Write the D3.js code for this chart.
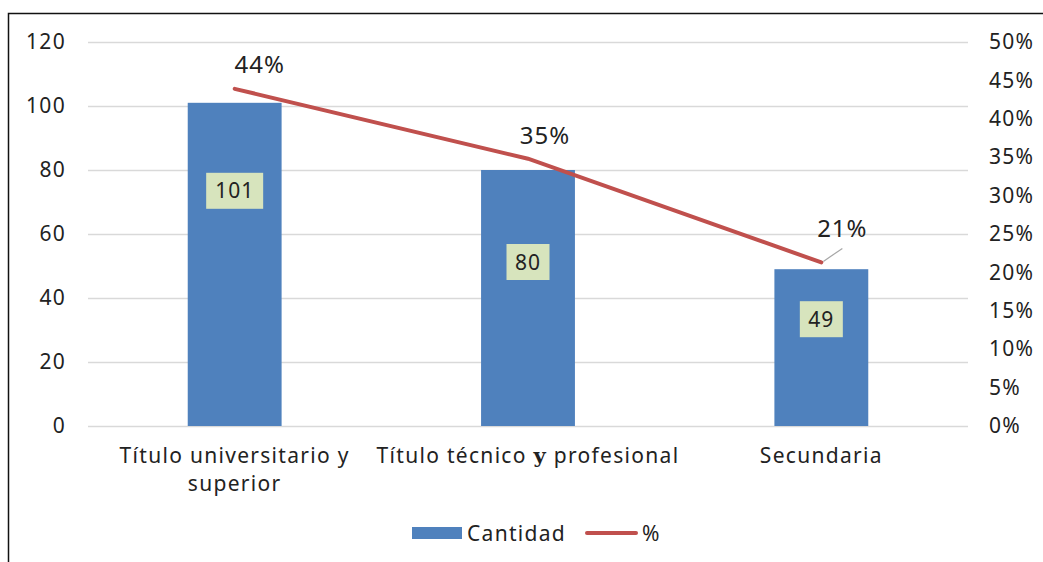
<!DOCTYPE html>
<html>
<head>
<meta charset="utf-8">
<script src="https://cdn.jsdelivr.net/npm/d3@7"></script>
<style>
  body { margin: 0; background: #fff; }
  text { font-family: "Noto Sans", sans-serif; fill: #222; letter-spacing: 1.3px; }
</style>
</head>
<body>
<script>
var categories = ["Título universitario y superior", "Título técnico y profesional", "Secundaria"];
var cantidad = [101, 80, 49];
var pct = [0.439, 0.348, 0.213];
var pctLabels = ["44%", "35%", "21%"];
var leftTicks = [0, 20, 40, 60, 80, 100, 120];
var rightTicks = [0, 0.05, 0.1, 0.15, 0.2, 0.25, 0.3, 0.35, 0.4, 0.45, 0.5];

var W = 1043, H = 562;
var plotL = 88, plotR = 968, plotT = 42, plotB = 426;

var svg = d3.select("body").append("svg")
    .attr("width", W)
    .attr("height", H);

// outer frame
svg.append("rect")
    .attr("x", 8.5).attr("y", 13.5)
    .attr("width", W).attr("height", H)
    .attr("fill", "none")
    .attr("stroke", "#111")
    .attr("stroke-width", 1.5);

var x = d3.scaleBand().domain(categories).range([plotL, plotR]).paddingInner(0.68).paddingOuter(0.34);
var y = d3.scaleLinear().domain([0, 120]).range([plotB, plotT]);
var y2 = d3.scaleLinear().domain([0, 0.5]).range([plotB, plotT]);

// gridlines
svg.selectAll("line.grid")
    .data(leftTicks)
    .enter().append("line")
    .attr("class", "grid")
    .attr("x1", plotL).attr("x2", plotR)
    .attr("y1", function(d) { return y(d) + 0.5; })
    .attr("y2", function(d) { return y(d) + 0.5; })
    .attr("stroke", "#d9d9d9")
    .attr("stroke-width", 1.5);

// left axis
var ya = svg.append("g")
    .attr("transform", "translate(" + (plotL - 22) + ",0)")
    .call(d3.axisLeft(y).tickValues(leftTicks).tickSize(0).tickPadding(0));
ya.select(".domain").remove();
ya.selectAll("text").style("font-size", "21px").attr("fill", "#222").style("font-family", "'Noto Sans', sans-serif");

// right axis
var yb = svg.append("g")
    .attr("transform", "translate(" + (plotR + 21) + ",0)")
    .call(d3.axisRight(y2).tickValues(rightTicks).tickSize(0).tickPadding(0).tickFormat(d3.format(".0%")));
yb.select(".domain").remove();
yb.selectAll("text").style("font-size", "21px").attr("fill", "#222").style("font-family", "'Noto Sans', sans-serif");

// bars
svg.selectAll("rect.bar")
    .data(cantidad)
    .enter().append("rect")
    .attr("class", "bar")
    .attr("x", function(d, i) { return x(categories[i]); })
    .attr("y", function(d) { return y(d); })
    .attr("width", x.bandwidth())
    .attr("height", function(d) { return plotB - y(d); })
    .attr("fill", "#4f81bd");

// bar value labels
var labelOffset = [88, 92, 50];
var lab = svg.selectAll("g.vlab")
    .data(cantidad)
    .enter().append("g")
    .attr("class", "vlab")
    .attr("transform", function(d, i) {
        return "translate(" + (x(categories[i]) + x.bandwidth() / 2) + "," + (y(d) + labelOffset[i]) + ")";
    });
lab.append("rect")
    .attr("x", function(d) { return d >= 100 ? -28.5 : -21.5; })
    .attr("y", -18)
    .attr("width", function(d) { return d >= 100 ? 57 : 43; })
    .attr("height", 36)
    .attr("fill", "#d7e4bd");
lab.append("text")
    .attr("text-anchor", "middle")
    .attr("dy", "0.36em")
    .style("font-size", "21px")
    .style("letter-spacing", "1px")
    .text(function(d) { return d; });

// line
var cx = function(i) { return x(categories[i]) + x.bandwidth() / 2; };
var line = d3.line()
    .x(function(d, i) { return cx(i); })
    .y(function(d) { return y2(d); });
svg.append("path")
    .datum(pct)
    .attr("d", line)
    .attr("fill", "none")
    .attr("stroke", "#c0504d")
    .attr("stroke-width", 4)
    .attr("stroke-linecap", "round");

// leader line for last label
svg.append("line")
    .attr("x1", cx(2) + 2).attr("y1", y2(pct[2]) - 1)
    .attr("x2", cx(2) + 21).attr("y2", y2(pct[2]) - 14)
    .attr("stroke", "#a6a6a6")
    .attr("stroke-width", 1.2);

var pctPos = [[25, -16], [17, -15], [21, -25]];
svg.selectAll("text.plab")
    .data(pctLabels)
    .enter().append("text")
    .attr("class", "plab")
    .attr("text-anchor", "middle")
    .attr("x", function(d, i) { return cx(i) + pctPos[i][0]; })
    .attr("y", function(d, i) { return y2(pct[i]) + pctPos[i][1]; })
    .style("font-size", "24px")
    .style("letter-spacing", "1px")
    .text(function(d) { return d; });

// category labels
var catLines = [["Título universitario y", "superior"], ["Título técnico ", "y", " profesional"], ["Secundaria"]];
categories.forEach(function(c, i) {
    var t = svg.append("text")
        .attr("text-anchor", "middle")
        .attr("x", cx(i))
        .attr("y", 463)
        .style("font-size", "21px");
    if (i === 0) {
        t.append("tspan").attr("x", cx(i)).text(catLines[0][0]);
        t.append("tspan").attr("x", cx(i)).attr("dy", 28).text(catLines[0][1]);
    } else if (i === 1) {
        t.append("tspan").text(catLines[1][0]);
        t.append("tspan").style("font-family", "'DejaVu Serif', serif").style("font-weight", "bold").text(catLines[1][1]);
        t.append("tspan").text(catLines[1][2]);
    } else {
        t.text(catLines[2][0]);
    }
});

// legend
svg.append("rect")
    .attr("x", 412).attr("y", 527)
    .attr("width", 50).attr("height", 12)
    .attr("fill", "#4f81bd");
svg.append("text")
    .attr("x", 467).attr("y", 541)
    .style("font-size", "21px")
    .text("Cantidad");
svg.append("line")
    .attr("x1", 587).attr("x2", 636)
    .attr("y1", 533).attr("y2", 533)
    .attr("stroke", "#c0504d")
    .attr("stroke-width", 4)
    .attr("stroke-linecap", "round");
svg.append("text")
    .attr("x", 642).attr("y", 541)
    .style("font-size", "21px")
    .text("%");
</script>
</body>
</html>
